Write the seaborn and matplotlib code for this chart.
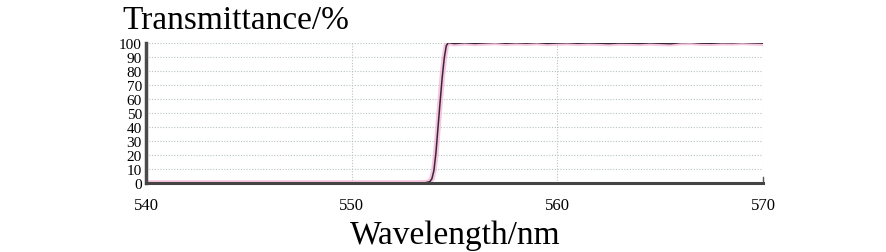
import numpy as np
import pandas as pd
import matplotlib
matplotlib.use("Agg")
import matplotlib.pyplot as plt
import seaborn as sns

# ─────────────────────────────────────────────
# DATA
# ─────────────────────────────────────────────
wavelength = [540.0, 545.0, 550.0, 553.0, 553.6, 553.8, 553.9, 554.0, 554.1,
              554.2, 554.3, 554.4, 554.5, 554.6, 554.7, 555.0, 555.5, 556.0,
              556.5, 557.0, 557.5, 558.0, 558.5, 559.0, 559.5, 560.0, 560.5,
              561.0, 561.5, 562.0, 562.5, 563.0, 563.5, 564.0, 564.5, 565.0,
              565.5, 566.0, 566.5, 567.0, 567.5, 568.0, 568.5, 569.0, 569.5, 570.0]
transmittance = [0.0, 0.0, 0.0, 0.0, 0.2, 1.0, 3.0, 9.0, 22.0,
                 40.0, 58.0, 75.0, 89.0, 98.0, 100.3, 99.6, 100.2, 99.7,
                 100.1, 100.4, 99.8, 100.2, 99.9, 100.3, 99.7, 100.0, 100.2,
                 99.8, 100.1, 99.9, 99.6, 100.0, 99.9, 99.7, 100.1, 99.8,
                 99.5, 100.3, 100.4, 99.9, 99.8, 100.2, 100.1, 100.4, 100.1, 99.9]
x_ticks = [540, 550, 560, 570]
y_ticks = list(range(0, 101, 10))

df = pd.DataFrame({"wl": wavelength, "T": transmittance})

sns.set_style("white")
plt.rcParams['font.family'] = ['Liberation Serif', 'DejaVu Serif']
plt.rcParams['text.color'] = 'black'
plt.rcParams['xtick.labelcolor'] = 'black'
plt.rcParams['ytick.labelcolor'] = 'black'

fig = plt.figure(figsize=(8.87, 2.53), dpi=100)
ax = fig.add_axes([146 / 887, 1 - 184 / 253, 617 / 887, 140 / 253])

# pink halo + dark trace
sns.lineplot(data=df, x="wl", y="T", ax=ax, color="#f3b8d6", lw=4, alpha=0.8)
sns.lineplot(data=df, x="wl", y="T", ax=ax, color="#3b2638", lw=1.1)

ax.set_xlim(540, 570)
ax.set_ylim(0, 100)
ax.set_xticks(x_ticks)
ax.set_yticks(y_ticks)
ax.set_xticks([545, 555, 565], minor=True)
ax.set_xlabel("")
ax.set_ylabel("")

ax.grid(True, which="major", color="#b8c4c4", linestyle=(0, (1, 1.5)), lw=0.8)
ax.tick_params(axis="y", length=0, pad=3, labelsize=11)
ax.tick_params(axis="x", which="both", direction="in", length=3, color="#333333",
               pad=10, labelsize=12)
ax.tick_params(axis="x", which="major", length=0)

ax.spines["top"].set_visible(False)
ax.spines["left"].set_linewidth(2.5)
ax.spines["left"].set_color("#4a4a4a")
ax.spines["bottom"].set_linewidth(2.2)
ax.spines["bottom"].set_color("#444444")
ax.spines["right"].set_linewidth(1.0)
ax.spines["right"].set_color("#555555")
ax.spines["right"].set_bounds(0, 4)

fig.text(122 / 887, 1 - 29 / 253, "Transmittance/%", fontsize=24, va="baseline", ha="left")
fig.text(455 / 887, 1 - 244 / 253, "Wavelength/nm", fontsize=24, va="baseline", ha="center")

fig.savefig("out.png", dpi=100)
